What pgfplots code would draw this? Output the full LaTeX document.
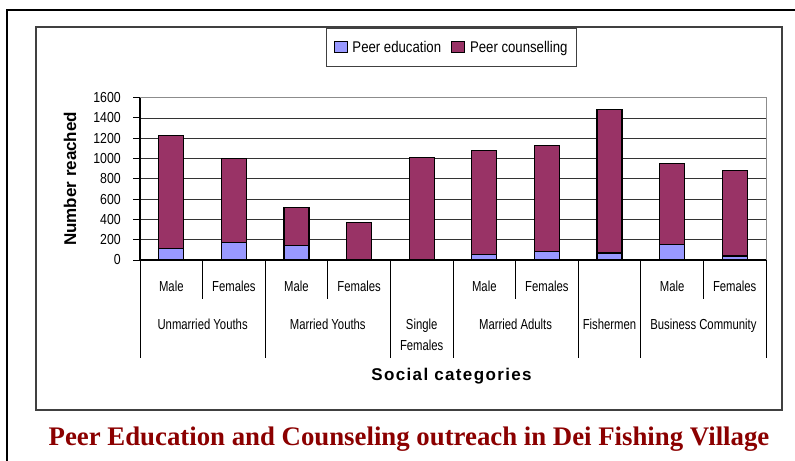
\documentclass[border=0pt]{standalone}
\usepackage{pgfplots}
\pgfplotsset{compat=1.18}
\usepackage{fontspec}
\setmainfont{Liberation Sans}
\newfontfamily\agency{Liberation Sans}[FakeStretch=0.78]
\newfontfamily\agencyt{Liberation Sans}[FakeStretch=0.85]
\newfontfamily\arialsp{Liberation Sans}[LetterSpace=8]
\newfontfamily\timesfont{Liberation Serif}
\definecolor{pe}{HTML}{9999FF}
\definecolor{pc}{HTML}{993366}
\definecolor{titlered}{HTML}{8B0000}
\newcommand{\labfont}{\agency\fontsize{14.5bp}{21bp}\selectfont}
\begin{document}
\begin{tikzpicture}[x=1bp,y=1bp]
\useasboundingbox (0,0) rectangle (795,-461);
\draw[line width=1.5bp] (7,-461) -- (7,-10) -- (795,-10);
\draw[line width=1.5bp, black!75] (36,-27) rectangle (782,-410);
\begin{axis}[
  at={(140bp,-260bp)}, anchor=south west, scale only axis,
  width=626bp, height=162.3bp,
  xmin=0.5, xmax=10.5, ymin=0, ymax=1600,
  ybar stacked, bar width=25bp,
  ytick={0,200,...,1600}, xtick=\empty,
  ymajorgrids, grid style={black!80, line width=0.8bp},
  axis x line*=bottom, axis y line*=left,
  axis line style={line width=1.2bp, -},
  tick align=outside, major tick length=7bp,
  tick style={black, line width=1bp},
  yticklabel style={font=\agencyt\fontsize{14.5bp}{16bp}\selectfont, anchor=east, inner sep=0pt, xshift=-12bp},
  /pgf/number format/assume math mode=true,
  /pgf/number format/1000 sep={},
  clip=false,
  ylabel={Number reached},
  ylabel style={at={(axis description cs:-0.1118,0.5)}, rotate=0, anchor=center, font=\bfseries\fontsize{17bp}{20bp}\selectfont},
  xlabel={Social categories},
  xlabel style={at={(axis description cs:0.4976,-0.7178)}, anchor=center, font=\arialsp\bfseries\fontsize{17bp}{20bp}\selectfont},
  legend columns=2,
  legend style={at={(0.4976,1.3093)}, anchor=center, draw=black!75, line width=1bp,
    font=\agencyt\fontsize{15.5bp}{18bp}\selectfont, inner xsep=7bp, inner ysep=11bp,
    /tikz/every even column/.append style={column sep=8bp},
    /tikz/every odd column/.append style={column sep=3bp}},
  legend image code/.code={\draw[#1, line width=1bp] (0bp,-5bp) rectangle (13bp,6bp);},
]
\addplot[fill=pe, draw=black, line width=1.2bp] coordinates {(1,110) (2,170) (3,140) (4,0) (5,5) (6,55) (7,85) (8,70) (9,155) (10,40)};
\addplot[fill=pc, draw=black, line width=1.2bp] coordinates {(1,1120) (2,830) (3,380) (4,370) (5,1005) (6,1025) (7,1045) (8,1410) (9,795) (10,840)};
\legend{Peer education, Peer counselling}
\draw[black!45, line width=1bp] (rel axis cs:0,1) -- (rel axis cs:1,1) -- (rel axis cs:1,0);
\pgfplotsinvokeforeach{0.5,2.5,4.5,5.5,7.5,8.5,10.5}{\draw[line width=1bp] (axis cs:#1,0) -- ++(0pt,-98bp);}
\pgfplotsinvokeforeach{1.5,3.5,6.5,9.5}{\draw[line width=1bp] (axis cs:#1,0) -- ++(0pt,-39bp);}
\pgfplotsinvokeforeach{1,3,6,9}{\node[anchor=base, font=\labfont, inner sep=0pt] at ([yshift=-31bp]axis cs:#1,0) {Male};}
\pgfplotsinvokeforeach{2,4,7,10}{\node[anchor=base, font=\labfont, inner sep=0pt] at ([yshift=-31bp]axis cs:#1,0) {Females};}
\node[anchor=base, font=\labfont, inner sep=0pt] at ([yshift=-69bp]axis cs:1.5,0) {Unmarried Youths};
\node[anchor=base, font=\labfont, inner sep=0pt] at ([yshift=-69bp]axis cs:3.5,0) {Married Youths};
\node[anchor=base, font=\labfont, inner sep=0pt] at ([yshift=-69bp]axis cs:5,0) {Single};
\node[anchor=base, font=\labfont, inner sep=0pt] at ([yshift=-90bp]axis cs:5,0) {Females};
\node[anchor=base, font=\labfont, inner sep=0pt] at ([yshift=-69bp]axis cs:6.5,0) {Married Adults};
\node[anchor=base, font=\labfont, inner sep=0pt] at ([yshift=-69bp]axis cs:8,0) {Fishermen};
\node[anchor=base, font=\labfont, inner sep=0pt] at ([yshift=-69bp]axis cs:9.5,0) {Business Community};
\end{axis}
\node[anchor=base, text=titlered, font=\timesfont\bfseries\fontsize{26.8bp}{30bp}\selectfont, inner sep=0pt] at (409,-445) {Peer Education and Counseling outreach in Dei Fishing Village};
\end{tikzpicture}
\end{document}
